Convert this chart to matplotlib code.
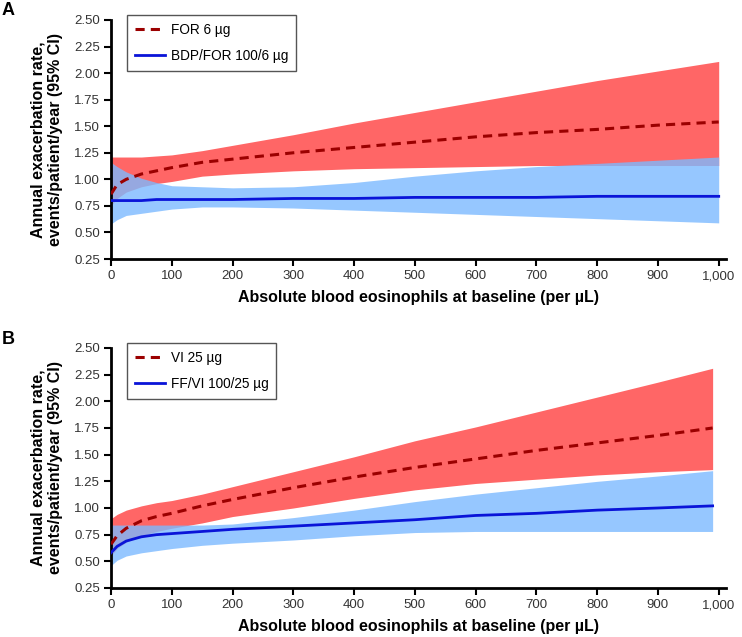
import matplotlib
matplotlib.use("Agg")
import matplotlib.pyplot as plt
import numpy as np

plt.rcParams["font.family"] = ["Liberation Sans", "DejaVu Sans"]

# Panel A: FOR 6 µg vs BDP/FOR 100/6 µg
x_a = [0, 10, 25, 50, 75, 100, 150, 200, 300, 400, 500, 600, 700, 800, 900, 1000]
for_mid = [0.86, 0.95, 1.00, 1.05, 1.08, 1.11, 1.16, 1.19, 1.25, 1.30, 1.35, 1.40, 1.44, 1.47, 1.51, 1.54]
for_hi = [1.21, 1.21, 1.21, 1.21, 1.22, 1.23, 1.27, 1.32, 1.42, 1.53, 1.63, 1.73, 1.83, 1.93, 2.02, 2.11]
for_lo = [0.75, 0.82, 0.88, 0.93, 0.96, 0.98, 1.03, 1.05, 1.08, 1.10, 1.11, 1.12, 1.13, 1.13, 1.13, 1.13]
bdp_mid = [0.80, 0.80, 0.80, 0.80, 0.81, 0.81, 0.81, 0.81, 0.82, 0.82, 0.83, 0.83, 0.83, 0.84, 0.84, 0.84]
bdp_hi = [1.16, 1.12, 1.07, 1.01, 0.97, 0.94, 0.93, 0.92, 0.93, 0.97, 1.03, 1.08, 1.12, 1.15, 1.18, 1.21]
bdp_lo = [0.58, 0.62, 0.66, 0.68, 0.70, 0.72, 0.74, 0.74, 0.73, 0.71, 0.69, 0.67, 0.65, 0.63, 0.61, 0.59]

# Panel B: VI 25 µg vs FF/VI 100/25 µg
x_b = [0, 10, 25, 50, 75, 100, 150, 200, 300, 400, 500, 600, 700, 800, 900, 990]
vi_mid = [0.66, 0.74, 0.81, 0.88, 0.92, 0.95, 1.02, 1.08, 1.19, 1.29, 1.38, 1.46, 1.54, 1.61, 1.68, 1.75]
vi_hi = [0.90, 0.94, 0.98, 1.02, 1.05, 1.07, 1.13, 1.20, 1.34, 1.48, 1.63, 1.76, 1.90, 2.04, 2.18, 2.31]
vi_lo = [0.55, 0.62, 0.68, 0.74, 0.78, 0.81, 0.86, 0.92, 1.00, 1.09, 1.17, 1.23, 1.27, 1.31, 1.34, 1.36]
ffvi_mid = [0.58, 0.64, 0.69, 0.73, 0.75, 0.76, 0.78, 0.80, 0.83, 0.86, 0.89, 0.93, 0.95, 0.98, 1.00, 1.02]
ffvi_hi = [0.84, 0.84, 0.84, 0.84, 0.84, 0.84, 0.84, 0.85, 0.91, 0.98, 1.06, 1.13, 1.19, 1.25, 1.30, 1.35]
ffvi_lo = [0.46, 0.51, 0.55, 0.58, 0.60, 0.62, 0.65, 0.67, 0.70, 0.74, 0.77, 0.78, 0.78, 0.78, 0.78, 0.78]

panels = [
    ("A", x_a, (for_mid, for_lo, for_hi, "FOR 6 µg"), (bdp_mid, bdp_lo, bdp_hi, "BDP/FOR 100/6 µg")),
    ("B", x_b, (vi_mid, vi_lo, vi_hi, "VI 25 µg"), (ffvi_mid, ffvi_lo, ffvi_hi, "FF/VI 100/25 µg")),
]

RED_BAND = "#FF6666"
BLUE_BAND = (124 / 255, 186 / 255, 1.0)
RED_LINE = "#9B0000"
BLUE_LINE = "#0A14D8"

W, H = 742, 637
fig = plt.figure(figsize=(W / 100, H / 100), dpi=100)

# pixel boxes (left, top, right, bottom) and panel-letter top
boxes = [(111, 20, 726, 259, 2), (111, 348, 726, 588, 331)]

yticks = np.arange(0.25, 2.51, 0.25)
xticks = np.arange(0, 1001, 100)

for (tag, xs, mono, combo), (l, t, r, b, lt) in zip(panels, boxes):
    ax = fig.add_axes([l / W, 1 - b / H, (r - l) / W, (b - t) / H])
    ax.fill_between(xs, mono[1], mono[2], color=RED_BAND, lw=0, zorder=1)
    ax.fill_between(xs, combo[1], combo[2], color=BLUE_BAND, alpha=0.8, lw=0, zorder=2)
    ax.plot(xs, mono[0], color=RED_LINE, ls=(0, (3, 2)), lw=2.2, label=mono[3], zorder=3)
    ax.plot(xs, combo[0], color=BLUE_LINE, lw=2, label=combo[3], zorder=3)

    ax.set_xlim(0, 1012)
    ax.set_ylim(0.25, 2.5)
    ax.set_yticks(yticks)
    ax.set_yticklabels([f"{v:.2f}" for v in yticks])
    ax.set_xticks(xticks)
    ax.set_xticklabels([f"{v:,}" for v in xticks])
    ax.tick_params(direction="out", length=5, width=1.5, labelsize=9.5, pad=3,
                   colors="black", labelcolor="#333333")
    for s in ["top", "right"]:
        ax.spines[s].set_visible(False)
    for s in ["left", "bottom"]:
        ax.spines[s].set_linewidth(2)
    ax.set_xlabel("Absolute blood eosinophils at baseline (per µL)", fontsize=11.5,
                  fontweight="bold", labelpad=6)
    ax.set_ylabel("Annual exacerbation rate,\nevents/patient/year (95% CI)", fontsize=11.5,
                  fontweight="bold", labelpad=8)

    leg = ax.legend(loc="upper left", bbox_to_anchor=(16 / 615, 1 + 5 / 239), borderaxespad=0,
                    fontsize=9.8, handlelength=2.2, labelspacing=0.85, handletextpad=0.4,
                    borderpad=0.6, fancybox=False, framealpha=1)
    leg.get_frame().set_edgecolor("#555555")
    leg.get_frame().set_linewidth(1)

    fig.text(2 / W, 1 - lt / H, tag, fontsize=13, fontweight="bold", va="top", ha="left")

fig.savefig("out.png", dpi=100)
